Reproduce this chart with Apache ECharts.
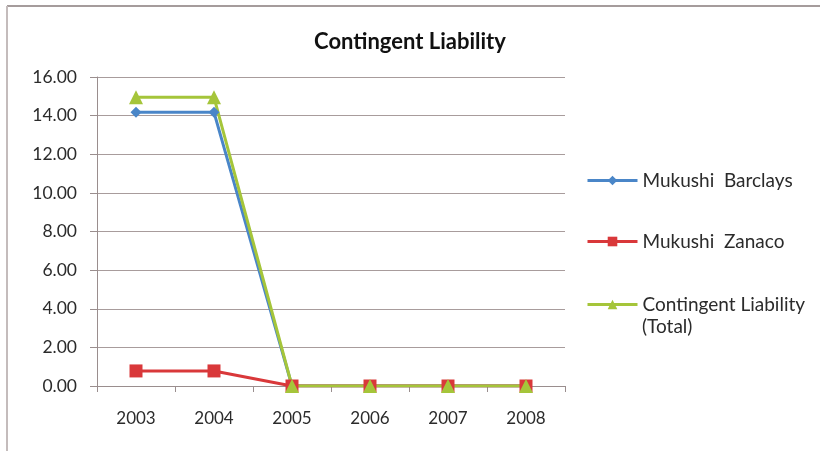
<!DOCTYPE html>
<html>
<head>
<meta charset="utf-8">
<script src="https://cdn.jsdelivr.net/npm/echarts@6/dist/echarts.min.js"></script>
<style>
  html, body { margin: 0; padding: 0; background: #ffffff; }
  #chart { width: 820px; height: 451px; }
</style>
</head>
<body>
<div id="chart"></div>
<script>
// Contingent liability by year
const years = ['2003', '2004', '2005', '2006', '2007', '2008'];
const barclays = [14.17, 14.17, 0, 0, 0, 0];
const zanaco = [0.78, 0.78, 0, 0, 0, 0];
const total = [14.95, 14.95, 0, 0, 0, 0];

const FONT = 'Lato, "Open Sans", sans-serif';
const TEXT = '#2b2b2b';
const chart = echarts.init(document.getElementById('chart'));

function legendFor(name, top) {
  return {
    data: [name],
    left: 586,
    top: top,
    padding: 0,
    orient: 'vertical',
    itemWidth: 50,
    itemHeight: 12,
    itemGap: 0,
    lineStyle: { width: 3 },
    textStyle: { fontFamily: FONT, fontSize: 19, color: TEXT, lineHeight: 23 }
  };
}

chart.setOption({
  animation: false,
  backgroundColor: '#ffffff',
  title: {
    text: 'Contingent Liability',
    left: 'center',
    top: 26,
    textStyle: { fontFamily: FONT, fontSize: 22, fontWeight: 'bold', color: '#111' }
  },
  legend: [
    legendFor('Mukushi  Barclays', 169),
    legendFor('Mukushi  Zanaco', 230),
    legendFor('Contingent Liability', 293)
  ],
  grid: { left: 97, right: 255, top: 77, bottom: 65 },
  xAxis: {
    type: 'category',
    data: years,
    boundaryGap: true,
    axisLine: { lineStyle: { color: '#9a8e8e', width: 1 } },
    axisTick: { show: true, length: 6, lineStyle: { color: '#9a8e8e' } },
    axisLabel: { fontFamily: FONT, fontSize: 17, color: TEXT, margin: 24 }
  },
  yAxis: {
    type: 'value',
    min: 0,
    max: 16,
    interval: 2,
    axisLine: { show: true, lineStyle: { color: '#9a8e8e', width: 1 } },
    axisTick: { show: true, length: 7, lineStyle: { color: '#9a8e8e' } },
    axisLabel: {
      fontFamily: FONT, fontSize: 17.5, color: TEXT, margin: 20,
      formatter: v => v.toFixed(2)
    },
    splitLine: { lineStyle: { color: '#a89c9c', width: 1 } }
  },
  graphic: [
    { type: 'line', shape: { x1: 7, y1: 6, x2: 820, y2: 6 }, style: { stroke: '#a59c9c', lineWidth: 2 } },
    { type: 'line', shape: { x1: 7, y1: 6, x2: 7, y2: 451 }, style: { stroke: '#c4bcbc', lineWidth: 2 } },
    // second line of the total series' legend entry
    {
      type: 'text', left: 642, top: 317,
      style: { text: '(Total)', font: '19px ' + FONT, fill: TEXT }
    }
  ],
  series: [
    {
      name: 'Mukushi  Barclays',
      type: 'line',
      data: barclays,
      symbol: 'diamond',
      symbolSize: 11,
      itemStyle: { color: '#4a86c8' },
      lineStyle: { color: '#4a86c8', width: 3 }
    },
    {
      name: 'Mukushi  Zanaco',
      type: 'line',
      data: zanaco,
      symbol: 'rect',
      symbolSize: 13,
      itemStyle: { color: '#d9383a' },
      lineStyle: { color: '#d9383a', width: 3 }
    },
    {
      name: 'Contingent Liability',
      type: 'line',
      data: total,
      symbol: 'triangle',
      symbolSize: 14,
      itemStyle: { color: '#a5c53a' },
      lineStyle: { color: '#a5c53a', width: 3 }
    }
  ]
});
</script>
</body>
</html>
